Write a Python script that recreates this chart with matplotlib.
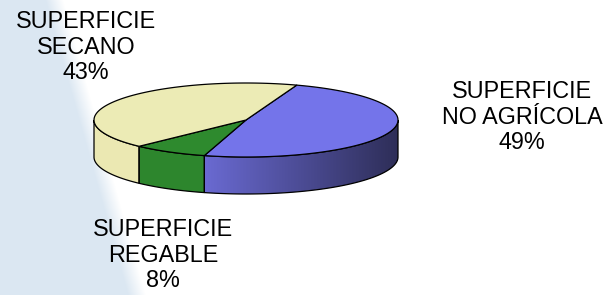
import numpy as np
import matplotlib.pyplot as plt
from matplotlib.patches import Polygon
from matplotlib.colors import to_rgb

plt.rcParams['font.family'] = ['Liberation Sans', 'DejaVu Sans']

# data
labels = ['SUPERFICIE\nNO AGRÍCOLA', 'SUPERFICIE\nREGABLE', 'SUPERFICIE\nSECANO']
values = [49, 8, 43]
top_colors = ['#7474ea', '#2e8a2e', '#ecebb5']
side_colors = ['#6868cc', '#2d862d', '#ebe8b2']
label_pos = [(522, 117), (163, 255), (86, 47)]

# pie geometry (pixels, y down)
cx, cy = 246, 120
ra, rb = 152, 37
depth = 37
start = 70.5

fig = plt.figure(figsize=(6.1, 2.95), dpi=100)

# background: light blue band on the left
bg = fig.add_axes([0, 0, 1, 1])
bg.set_axis_off()
H, W = 295, 610
yy, xx = np.mgrid[0:H, 0:W]
edge = 54 + 0.28 * yy
t = np.clip((edge - xx) / 18.0 + 0.5, 0, 1)
blue = np.array(to_rgb('#dbe7f2'))
img = np.ones((H, W, 3)) * (1 - t[..., None]) + blue * t[..., None]
bg.imshow(img, extent=[0, W, H, 0], aspect='auto', interpolation='bilinear')
bg.set_xlim(0, W)
bg.set_ylim(H, 0)

ax = fig.add_axes([0, 0, 1, 1], facecolor='none')
ax.set_xlim(0, W)
ax.set_ylim(H, 0)
ax.set_axis_off()


def pt(a):
    r = np.radians(a)
    return cx + ra * np.cos(r), cy - rb * np.sin(r)


fracs = np.array(values) / sum(values) * 360
bounds = []
a0 = start
for f in fracs:
    bounds.append((a0 - f, a0))
    a0 -= f

# sides (front half only)
for (lo, hi), col, i in zip(bounds, side_colors, range(len(values))):
    lo_n, hi_n = lo % 360, (lo % 360) + (hi - lo)
    s0, s1 = max(lo_n, 180), min(hi_n, 360)
    if s1 <= s0:
        continue
    angs = np.linspace(s0, s1, 80)
    xs, ys = pt(angs)
    poly = np.vstack([np.column_stack([xs, ys]),
                      np.column_stack([xs[::-1], ys[::-1] + depth])])
    if i == 0:
        p = Polygon(poly, closed=True, facecolor='none', edgecolor='none')
        ax.add_patch(p)
        grad = np.linspace(0, 1, 200)[None, :, None]
        c1, c2 = np.array(to_rgb('#6a6ad2')), np.array(to_rgb('#2e2e58'))
        gimg = c1 * (1 - grad) + c2 * grad
        im = ax.imshow(gimg, extent=[xs.min(), xs.max(), ys.max() + depth, ys.min()],
                       aspect='auto', zorder=1)
        im.set_clip_path(p)
    else:
        ax.add_patch(Polygon(poly, closed=True, facecolor=col, edgecolor='none', zorder=1))
    ax.add_patch(Polygon(poly, closed=True, facecolor='none', edgecolor='black',
                         linewidth=0.9, zorder=2))

# top wedges
for (lo, hi), col in zip(bounds, top_colors):
    angs = np.linspace(lo, hi, 120)
    xs, ys = pt(angs)
    poly = np.vstack([[cx, cy], np.column_stack([xs, ys])])
    ax.add_patch(Polygon(poly, closed=True, facecolor=col, edgecolor='black',
                         linewidth=0.9, joinstyle='round', zorder=3))

for (x, y), lab, v in zip(label_pos, labels, values):
    ax.text(x, y, f'{lab}\n{v}%', ha='center', va='center', fontsize=16.8,
            linespacing=1.15, color='black', zorder=5)

fig.savefig('out.png', dpi=100)
